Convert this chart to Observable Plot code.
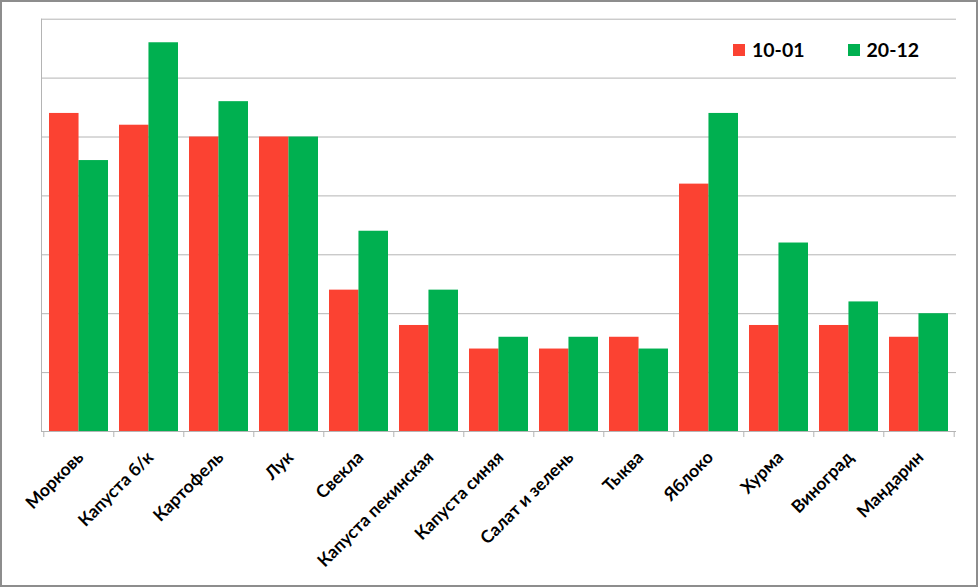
<!DOCTYPE html>
<html>
<head>
<meta charset="utf-8">
<script src="https://cdn.jsdelivr.net/npm/d3@7"></script>
<script src="https://cdn.jsdelivr.net/npm/@observablehq/plot@0.6"></script>
<style>
  html, body { margin: 0; padding: 0; background: #fff; }
  #wrap { position: relative; width: 979px; height: 588px; overflow: hidden; font-family: Lato, "Open Sans", sans-serif; }
  #border { position: absolute; left: 0; top: 0; width: 978px; height: 587px; box-sizing: border-box; border: 2px solid #8d8d8d; pointer-events: none; }
  #legend { position: absolute; left: 733px; top: 38px; display: flex; align-items: center; font-weight: 700; font-size: 19.5px; color: #000; }
  #legend .item { display: flex; align-items: center; }
  #legend .item + .item { margin-left: 43px; }
  #legend .sw { width: 12px; height: 12px; margin-right: 7px; }
</style>
</head>
<body>
<div id="wrap">
  <div id="chart"></div>
  <div id="legend"></div>
  <div id="border"></div>
</div>
<script>
const categories = ["Морковь", "Капуста б/к", "Картофель", "Лук", "Свекла", "Капуста пекинская", "Капуста синяя", "Салат и зелень", "Тыква", "Яблоко", "Хурма", "Виноград", "Мандарин"];
const values1001 = [54, 52, 50, 50, 24, 18, 14, 14, 16, 42, 18, 18, 16];
const values2012 = [46, 66, 56, 50, 34, 24, 16, 16, 14, 54, 32, 22, 20];
const seriesNames = ["10-01", "20-12"];
const seriesColors = ["#fb4232", "#00b050"];
const gridTicks = [0, 10, 20, 30, 40, 50, 60, 70];

const W = 979, H = 588;
const mL = 41, mR = 23, mT = 18.7, mB = 157;
const padInner = 0.163;
const step = (W - mL - mR) / categories.length;
const bandwidth = step * (1 - padInner);
const gridColor = "#b4b4b4";

const rows = categories.map((c, i) => ({cat: c, a: values1001[i], b: values2012[i]}));

const chart = Plot.plot({
  width: W,
  height: H,
  marginLeft: mL,
  marginRight: mR,
  marginTop: mT,
  marginBottom: mB,
  style: {background: "transparent", fontFamily: "Lato, 'Open Sans', sans-serif", overflow: "visible"},
  x: {domain: categories, paddingInner: padInner, paddingOuter: padInner / 2, axis: null, label: null},
  y: {domain: [0, 70], axis: null, label: null},
  marks: [
    Plot.ruleY(gridTicks, {stroke: gridColor, strokeWidth: 1}),
    Plot.frame({anchor: "left", stroke: gridColor}),
    Plot.barY(rows, {x: "cat", y: "a", fill: seriesColors[0], insetRight: bandwidth / 2}),
    Plot.barY(rows, {x: "cat", y: "b", fill: seriesColors[1], insetLeft: bandwidth / 2}),
    Plot.axisX({tickSize: 6, tickFormat: () => "", label: null, dx: -step / 2, stroke: gridColor}),
    Plot.axisX({ticks: [categories[categories.length - 1]], tickSize: 6, tickFormat: () => "", label: null, dx: step / 2, stroke: gridColor}),
    Plot.text(categories, {
      x: d => d,
      frameAnchor: "bottom",
      rotate: -45,
      textAnchor: "end",
      lineAnchor: "middle",
      dx: 1.5,
      dy: 23,
      fontSize: 17.5,
      fontWeight: "bold",
      fill: "#000"
    })
  ]
});
document.getElementById("chart").appendChild(chart);

const legend = document.getElementById("legend");
seriesNames.forEach((name, i) => {
  const item = document.createElement("div");
  item.className = "item";
  const sw = document.createElement("span");
  sw.className = "sw";
  sw.style.background = seriesColors[i];
  const t = document.createElement("span");
  t.textContent = name;
  item.appendChild(sw);
  item.appendChild(t);
  legend.appendChild(item);
});
</script>
</body>
</html>
